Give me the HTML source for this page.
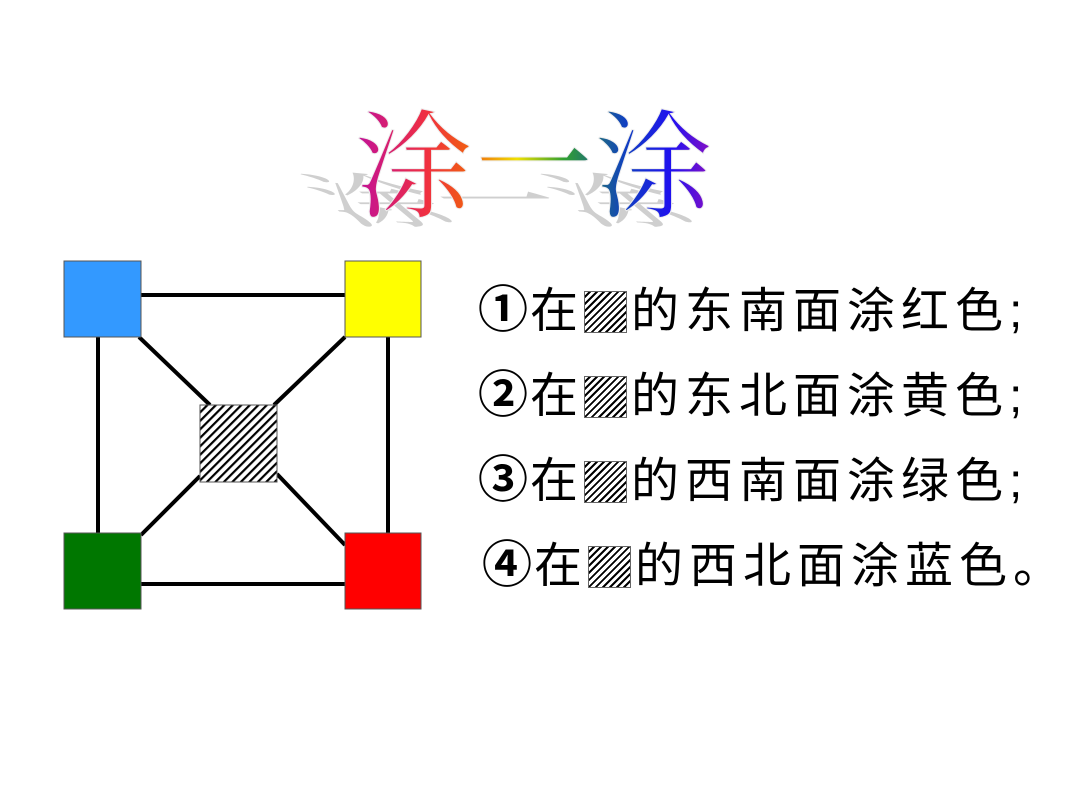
<!DOCTYPE html>
<html><head><meta charset="utf-8"><style>
body{margin:0;width:1080px;height:810px;background:#fff;overflow:hidden;position:relative}
.l{position:absolute;left:478px;font-family:"Liberation Sans","Noto Sans CJK SC",sans-serif;font-size:48px;line-height:60px;white-space:nowrap;color:#000;letter-spacing:6px}
.n{font-family:"Noto Sans CJK SC",sans-serif;font-weight:bold;font-size:50px;letter-spacing:2px}
.b{display:inline-block;width:43px;height:42px;vertical-align:-6px;border:1px solid #666;box-sizing:border-box;background:repeating-linear-gradient(-45deg,#fff 0 3px,#000 3px 5px);margin-right:4px}
</style></head><body>
<svg width="1080" height="810" style="position:absolute;left:0;top:0">
<defs>
<linearGradient id="g" x1="355" y1="0" x2="715" y2="0" gradientUnits="userSpaceOnUse">
<stop offset="0" stop-color="#c0109a"/><stop offset="0.2" stop-color="#f03040"/><stop offset="0.32" stop-color="#f06010"/><stop offset="0.45" stop-color="#f0e000"/><stop offset="0.58" stop-color="#30a030"/><stop offset="0.75" stop-color="#1040c0"/><stop offset="0.88" stop-color="#2010f0"/><stop offset="1" stop-color="#9010c0"/></linearGradient>
<pattern id="h" width="6" height="6" patternUnits="userSpaceOnUse" patternTransform="rotate(45)"><rect width="6" height="6" fill="#fff"/><rect width="2.2" height="6" fill="#000"/></pattern>
</defs>
<g transform="translate(345,222) skewX(50) scale(1,0.5)">
<text x="0" y="0" font-family="Noto Serif CJK SC,serif" font-size="118" fill="#cfcfcf" letter-spacing="2">涂一涂</text>
</g>
<text x="355" y="208" font-family="Noto Serif CJK SC,serif" font-size="118" fill="url(#g)" stroke="#eee" stroke-width="1" letter-spacing="2">涂一涂</text>
<g stroke="#000" stroke-width="4">
<line x1="141" y1="295" x2="345" y2="295"/><line x1="141" y1="584" x2="345" y2="584"/>
<line x1="98" y1="337" x2="98" y2="533"/><line x1="388" y1="337" x2="388" y2="533"/>
<line x1="139" y1="337" x2="210" y2="405"/><line x1="345" y1="337" x2="274" y2="405"/>
<line x1="141" y1="535" x2="200" y2="476"/><line x1="345" y1="545" x2="277" y2="474"/>
</g>
<g stroke="#555" stroke-width="1">
<rect x="64" y="261" width="77" height="76" fill="#3399ff"/>
<rect x="345" y="261" width="76" height="76" fill="#ffff00"/>
<rect x="64" y="533" width="77" height="76" fill="#007700"/>
<rect x="345" y="533" width="76" height="76" fill="#ff0000"/>
<rect x="200" y="405" width="77" height="77" fill="url(#h)"/>
</g>
</svg>
<div class="l" style="top:276px"><span class="n">①</span>在<span class="b"></span>的东南面涂红色;</div>
<div class="l" style="top:361px"><span class="n">②</span>在<span class="b"></span>的东北面涂黄色;</div>
<div class="l" style="top:446px"><span class="n">③</span>在<span class="b"></span>的西南面涂绿色;</div>
<div class="l" style="top:531px;left:482px"><span class="n">④</span>在<span class="b"></span>的西北面涂蓝色。</div>
</body></html>
